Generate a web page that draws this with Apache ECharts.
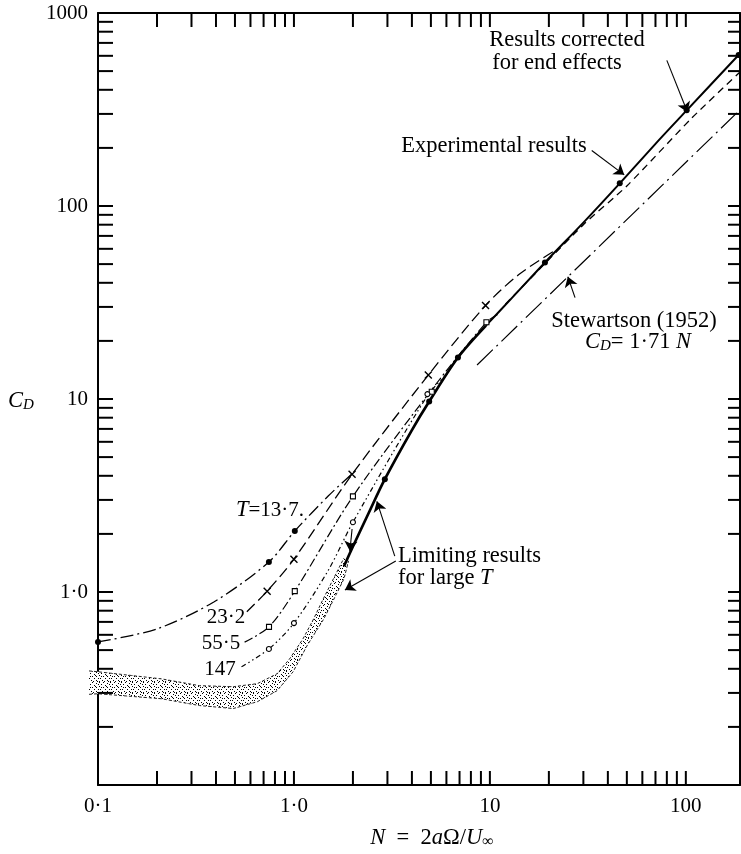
<!DOCTYPE html>
<html><head><meta charset="utf-8">
<script src="https://cdn.jsdelivr.net/npm/echarts@6/dist/echarts.min.js"></script>
<style>html,body{margin:0;padding:0;background:#fff}#c{width:741px;height:854px}</style>
</head><body><div id="c"></div>
<script>
// ---------------- data (N, C_D) ----------------
const curveT13_7 = [[0.1,0.551],[0.2,0.644],[0.39,0.888],[0.745,1.43],[1.01,2.07],[1.5,3.15],[1.98,4.1]];
const curveT23_2 = [[0.575,0.79],[0.73,1.01],[1.0,1.48],[1.98,4.07],[4.85,13.3],[9.5,30.5],[14,44],[21,58]];
const curveT55_5 = [[0.56,0.55],[0.746,0.66],[1.01,1.01],[2.0,3.13],[4.95,10.9],[9.6,25],[11,27.5]];
const curveT147  = [[0.54,0.41],[0.745,0.507],[1.0,0.69],[1.5,1.3],[2.0,2.3],[4.8,10.4],[6.2,13.8]];
const limitingCurve = [[1.8,1.36],[2.0,1.72],[2.4,2.55],[2.91,3.84],[4.0,6.9],[4.9,9.7],[6.87,16.4],[9.55,24]];
const experimentalCurve = [[9.55,24],[13,33.5],[19.1,51],[30,82],[46,131],[70,210],[101,313],[189,617]];
const correctedCurve = [[12,31],[30,80],[50,127],[107,285],[189,495]];
const stewartsonLine = [[8.6,15],[189,315]];
const bandUpper = [[0.09,0.39],[0.1,0.386],[0.21,0.355],[0.33,0.327],[0.49,0.323],[0.65,0.335],[0.82,0.377],[0.95,0.45],[1.11,0.57],[1.26,0.725],[1.41,0.92],[1.59,1.17],[1.8,1.5]];
const bandLower = [[0.09,0.295],[0.1,0.297],[0.21,0.28],[0.33,0.258],[0.49,0.249],[0.65,0.27],[0.82,0.308],[0.99,0.386],[1.17,0.53],[1.42,0.725],[1.6,0.92],[1.8,1.17],[1.9,1.45]];
const dotPoints = [[0.1,0.551],[0.745,1.43],[1.01,2.07],[2.91,3.84],[4.9,9.7],[6.87,16.4],[19.1,51],[46,131],[101,313],[186,605]];
const crossPoints = [[0.73,1.01],[1.0,1.48],[1.98,4.07],[4.85,13.3],[9.5,30.5]];
const squarePoints = [[0.746,0.66],[1.01,1.01],[2.0,3.13],[5.05,10.9],[9.6,25]];
const circlePoints = [[0.745,0.507],[1.0,0.69],[2.0,2.3],[4.8,10.6]];
const arrowLines = [
  [[33.1,194],[48.5,145]],
  [[80,568],[102,306]],
  [[27.2,33.5],[25.0,43.0]],
  [[3.27,1.535],[2.65,2.95]],
  [[3.31,1.446],[1.82,1.024]],
  [[1.98,2.12],[1.93,1.63]]
];
const xTickValues = [0.2,0.3,0.4,0.5,0.6,0.7,0.8,0.9,1,2,3,4,5,6,7,8,9,10,20,30,40,50,60,70,80,90,100];
const yTickValues = [0.2,0.3,0.4,0.5,0.6,0.7,0.8,0.9,1,2,3,4,5,6,7,8,9,10,20,30,40,50,60,70,80,90,100,200,300,400,500,600,700,800,900];
const xLabelValues = [0.1,1,10,100];
const xLabelTexts = ['0·1','1·0','10','100'];
const yLabelValues = [1,10,100,1000];
const yLabelTexts = ['1·0','10','100','1000'];
const X_MIN = 0.1, X_MAX = 189, Y_MIN = 0.1, Y_MAX = 1000;

// ---------------- styling ----------------
const SERIF = '"Liberation Serif","DejaVu Serif",serif';
const R = {
  n:{fontFamily:SERIF,fontSize:22.5,lineHeight:24,color:'#000'},
  d:{fontFamily:SERIF,fontSize:21,lineHeight:24,color:'#000'},
  i:{fontFamily:SERIF,fontSize:22.5,fontStyle:'italic',lineHeight:24,color:'#000'},
  s:{fontFamily:SERIF,fontSize:15,fontStyle:'italic',lineHeight:10,verticalAlign:'bottom',color:'#000'},
  u:{fontFamily:SERIF,fontSize:16,lineHeight:10,verticalAlign:'bottom',color:'#000'}
};
function fmt(values, texts){
  return function(v){
    for (let k=0;k<values.length;k++){
      if (Math.abs(Math.log10(v)-Math.log10(values[k]))<1e-6) return texts[k];
    }
    return '';
  };
}
function stipple(){
  const c=document.createElement('canvas'); c.width=11; c.height=11;
  const g=c.getContext('2d'); g.fillStyle='#fff'; g.fillRect(0,0,11,11); g.fillStyle='#000';
  const p=[[0,0],[4,0],[8,1],[2,2],[6,3],[10,2],[0,4],[4,5],[8,5],[1,7],[6,7],[10,7],[3,9],[8,9],[5,10],[0,10],[7,4],[2,5],[9,10]];
  p.forEach(q=>g.fillRect(q[0],q[1],1,1));
  return c;
}
const pattern = {image: stipple(), repeat:'repeat'};

function lineSeries(data, type, width, smooth){
  return {type:'line', data:data, showSymbol:false, symbol:'none', smooth:smooth, silent:true,
    lineStyle:{color:'#000', width:width, type:type}, z:3};
}
function scatter(data, symbol, size, fill, bw){
  return {type:'scatter', data:data, symbol:symbol, symbolSize:size, silent:true, z:5,
    itemStyle:{color:fill, borderColor:'#000', borderWidth:bw, opacity:1}};
}
function axisX(pos, showLabel){
  return {type:'log', logBase:10, min:X_MIN, max:X_MAX, position:pos,
    axisLine:{onZero:false, lineStyle:{color:'#000', width:2}}, axisTick:{show:false}, splitLine:{show:false}, minorTick:{show:false},
    axisLabel:{show:showLabel, formatter:fmt(xLabelValues,xLabelTexts), fontFamily:SERIF, fontSize:21, color:'#000', margin:11, showMaxLabel:false, showMinLabel:true}};
}
function axisY(pos, showLabel){
  return {type:'log', logBase:10, min:Y_MIN, max:Y_MAX, position:pos,
    axisLine:{onZero:false, lineStyle:{color:'#000', width:2}}, axisTick:{show:false}, splitLine:{show:false}, minorTick:{show:false},
    axisLabel:{show:showLabel, formatter:fmt(yLabelValues,yLabelTexts), fontFamily:SERIF, fontSize:21, color:'#000', margin:10}};
}

const chart = echarts.init(document.getElementById('c'), null, {renderer:'canvas'});
const option = {
  animation:false,
  backgroundColor:'#fff',
  grid:{left:98, right:1, top:13, bottom:69},
  xAxis:[axisX('bottom',true), axisX('top',false)],
  yAxis:[axisY('left',true), axisY('right',false)],
  series:[
    {type:'custom', coordinateSystem:'cartesian2d', silent:true, clip:false, z:1, data:[[1,1]],
      renderItem:function(params, api){
        const up = bandUpper.map(p=>api.coord(p));
        const lo = bandLower.map(p=>api.coord(p));
        const poly = up.concat(lo.slice().reverse());
        return {type:'group', children:[
          {type:'polygon', shape:{points:poly}, style:{fill:pattern, stroke:null}},
          {type:'polyline', shape:{points:up}, style:{fill:null, stroke:'#222', lineWidth:1, lineDash:[3,2]}},
          {type:'polyline', shape:{points:lo}, style:{fill:null, stroke:'#222', lineWidth:1, lineDash:[3,2]}}
        ]};
      }},
    lineSeries(curveT13_7, [13,4,2,4], 1.3, 0.3),
    lineSeries(curveT23_2, [11,5], 1.3, 0.3),
    lineSeries(curveT55_5, [9,3,2,3], 1.2, 0.3),
    lineSeries(curveT147, [5,3,1.5,3,1.5,3], 1.2, 0.3),
    lineSeries(limitingCurve, 'solid', 2.7, 0.3),
    lineSeries(experimentalCurve, 'solid', 2, 0.3),
    lineSeries(correctedCurve, [7,5], 1.3, 0.2),
    lineSeries(stewartsonLine, [22,5,2,5], 1.2, false),
    scatter(dotPoints, 'circle', 6, '#000', 0),
    scatter(crossPoints, 'path://M0,0L10,10M10,0L0,10', 7, 'none', 1.4),
    scatter(squarePoints, 'rect', 5, '#fff', 1.1),
    scatter(circlePoints, 'circle', 5, '#fff', 1.1),
    {type:'lines', coordinateSystem:'cartesian2d', silent:true, z:6,
      symbol:['none','arrow'], symbolSize:[6,10],
      lineStyle:{color:'#000', width:1.1, opacity:1},
      data:arrowLines.map(c=>({coords:c}))},
    {type:'custom', coordinateSystem:'cartesian2d', silent:true, clip:false, z:7,
      data:xTickValues.map(v=>[v, Y_MIN]), encode:{x:0,y:1},
      renderItem:function(params, api){
        const v = api.value(0);
        const b = api.coord([v, Y_MIN]), t = api.coord([v, Y_MAX]);
        return {type:'group', children:[
          {type:'line', shape:{x1:b[0],y1:b[1],x2:b[0],y2:b[1]-14}, style:{stroke:'#000',lineWidth:2}},
          {type:'line', shape:{x1:t[0],y1:t[1],x2:t[0],y2:t[1]+14}, style:{stroke:'#000',lineWidth:2}}
        ]};
      }},
    {type:'custom', coordinateSystem:'cartesian2d', silent:true, clip:false, z:7,
      data:yTickValues.map(v=>[X_MIN, v]), encode:{x:0,y:1},
      renderItem:function(params, api){
        const v = api.value(1);
        const l = api.coord([X_MIN, v]), r = api.coord([X_MAX, v]);
        return {type:'group', children:[
          {type:'line', shape:{x1:l[0],y1:l[1],x2:l[0]+15,y2:l[1]}, style:{stroke:'#000',lineWidth:2}},
          {type:'line', shape:{x1:r[0],y1:r[1],x2:r[0]-12,y2:r[1]}, style:{stroke:'#000',lineWidth:2}}
        ]};
      }}
  ],
  graphic:[
    {type:'text', x:567, y:40, style:{text:'{n|Results corrected}', rich:R, align:'center', verticalAlign:'middle'}},
    {type:'text', x:557, y:63, style:{text:'{n|for end effects}', rich:R, align:'center', verticalAlign:'middle'}},
    {type:'text', x:494, y:146, style:{text:'{n|Experimental results}', rich:R, align:'center', verticalAlign:'middle'}},
    {type:'text', x:634, y:321, style:{text:'{n|Stewartson (1952)}', rich:R, align:'center', verticalAlign:'middle'}},
    {type:'text', x:638, y:342, style:{text:'{i|C}{s|D}{n|= 1·71 }{i|N}', rich:R, align:'center', verticalAlign:'middle'}},
    {type:'text', x:398, y:556, style:{text:'{n|Limiting results}', rich:R, align:'left', verticalAlign:'middle'}},
    {type:'text', x:398, y:578, style:{text:'{n|for large }{i|T}', rich:R, align:'left', verticalAlign:'middle'}},
    {type:'text', x:270, y:510, style:{text:'{i|T}{d|=13·7.}', rich:R, align:'center', verticalAlign:'middle'}},
    {type:'text', x:226, y:617, style:{text:'{d|23·2}', rich:R, align:'center', verticalAlign:'middle'}},
    {type:'text', x:221, y:643, style:{text:'{d|55·5}', rich:R, align:'center', verticalAlign:'middle'}},
    {type:'text', x:220, y:669, style:{text:'{d|147}', rich:R, align:'center', verticalAlign:'middle'}},
    {type:'text', x:8, y:401, style:{text:'{i|C}{s|D}', rich:R, align:'left', verticalAlign:'middle'}},
    {type:'text', x:432, y:838, style:{text:'{i|N}{n|  =  2}{i|a}{n|Ω/}{i|U}{u|∞}', rich:R, align:'center', verticalAlign:'middle'}}
  ]
};
chart.setOption(option);
</script>
</body></html>
